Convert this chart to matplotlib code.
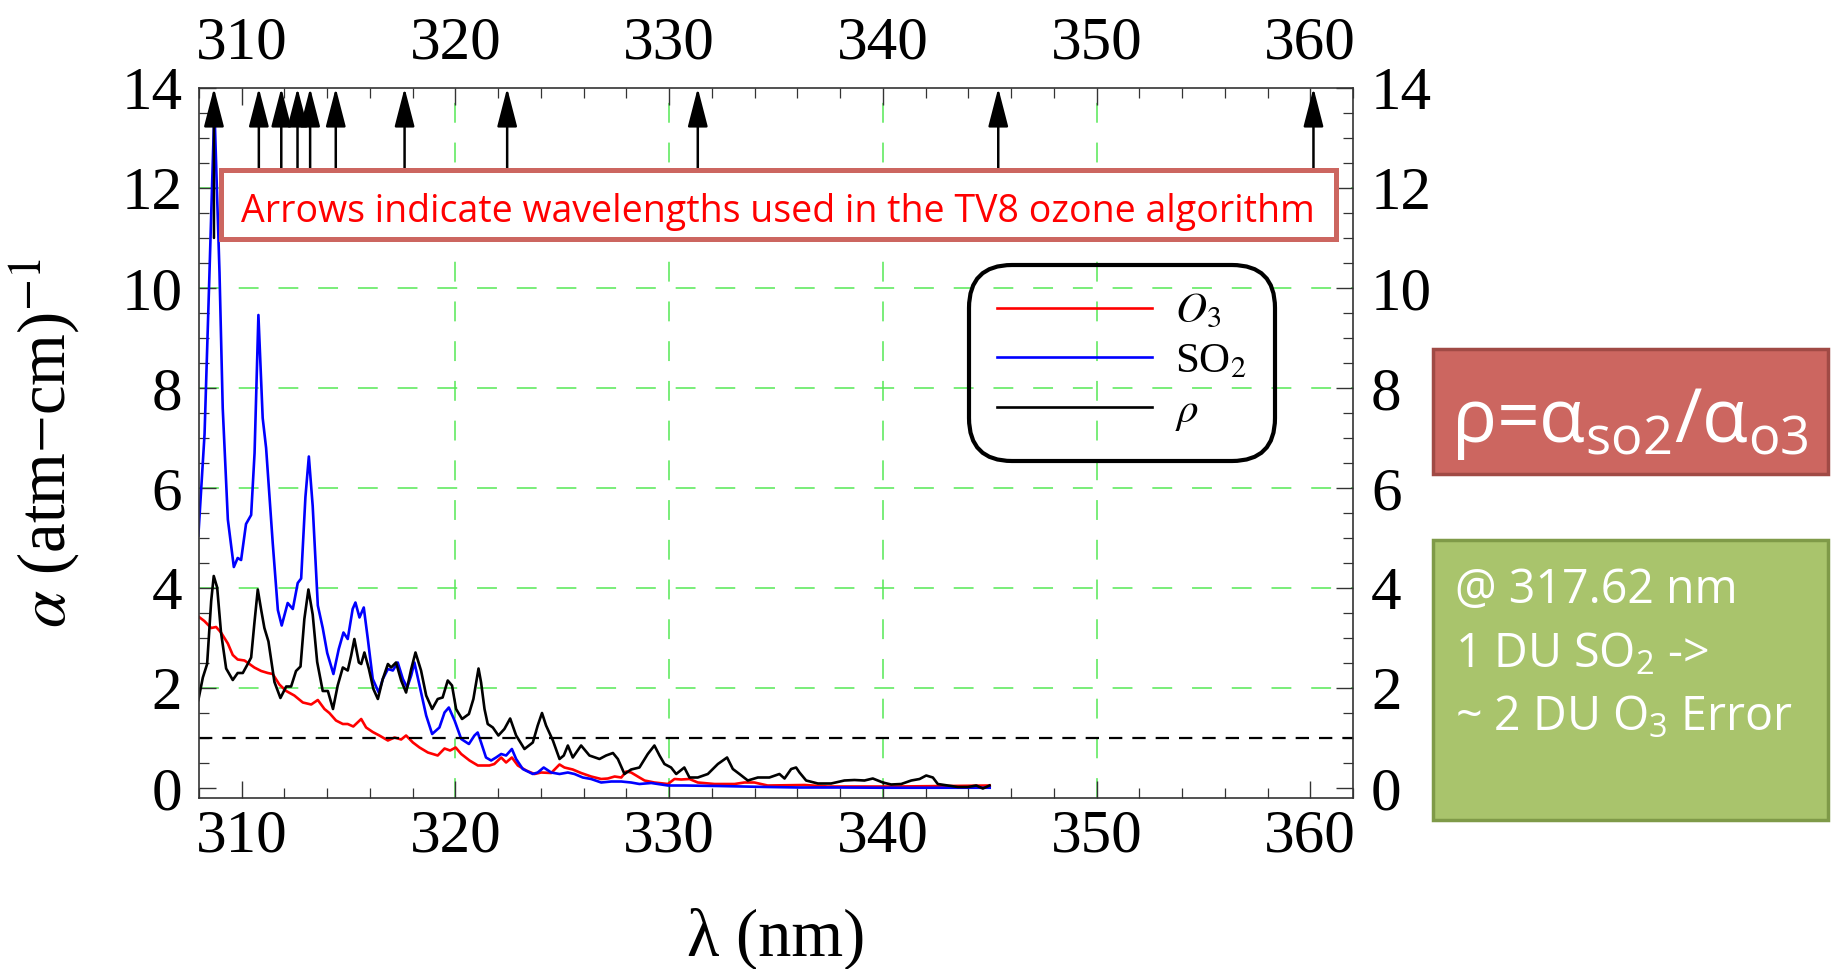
import matplotlib
matplotlib.use("Agg")
import matplotlib.pyplot as plt
from matplotlib.patches import Rectangle
from matplotlib.font_manager import FontProperties
from matplotlib.ticker import MultipleLocator

plt.rcParams['mathtext.fontset'] = 'custom'
plt.rcParams['mathtext.rm'] = 'Open Sans'
plt.rcParams['mathtext.it'] = 'Open Sans:italic'
plt.rcParams['mathtext.bf'] = 'Open Sans:bold'

# O3 absorption (red)
o3_wl = [307.97, 308.25, 308.57, 308.80, 309.03, 309.35, 309.58, 309.81, 310.13, 310.36,
         310.59, 310.91, 311.22, 311.45, 311.76, 312.08, 312.46, 312.86, 313.25, 313.56,
         313.87, 314.10, 314.41, 314.73, 314.96, 315.22, 315.59, 315.82, 316.13, 316.44,
         316.84, 317.15, 317.46, 317.69, 318.01, 318.32, 318.71, 319.17, 319.49, 319.75,
         320.01, 320.27, 320.66, 321.05, 321.20, 321.59, 321.82, 322.14, 322.37, 322.64,
         322.92, 323.31, 323.70, 324.01, 324.48, 324.87, 325.10, 325.49, 325.88, 326.35,
         326.82, 327.13, 327.45, 327.76, 327.99, 328.22, 328.61, 328.85, 329.31, 329.94,
         330.25, 330.56, 330.95, 331.34, 332.12, 333.06, 333.52, 333.99, 334.61, 336.33,
         337.42, 340.55, 343.0, 345.0]
o3_alpha = [3.43, 3.34, 3.20, 3.22, 3.11, 2.89, 2.66, 2.57, 2.55, 2.48,
            2.41, 2.34, 2.30, 2.28, 2.07, 1.94, 1.85, 1.71, 1.67, 1.76,
            1.58, 1.50, 1.35, 1.28, 1.28, 1.23, 1.38, 1.21, 1.12, 1.05,
            0.95, 1.01, 0.97, 1.05, 0.91, 0.81, 0.71, 0.65, 0.79, 0.75,
            0.81, 0.68, 0.55, 0.45, 0.45, 0.45, 0.48, 0.61, 0.51, 0.61,
            0.45, 0.35, 0.28, 0.31, 0.30, 0.47, 0.41, 0.37, 0.30, 0.23,
            0.18, 0.19, 0.23, 0.21, 0.33, 0.31, 0.21, 0.15, 0.11, 0.08,
            0.18, 0.17, 0.18, 0.11, 0.08, 0.08, 0.11, 0.11, 0.05, 0.06,
            0.03, 0.03, 0.04, 0.05]

# SO2 absorption (blue)
so2_wl = [307.97, 308.26, 308.49, 308.72, 308.96, 309.11, 309.35, 309.63, 309.81, 309.97,
          310.20, 310.44, 310.60, 310.78, 310.98, 311.14, 311.45, 311.69, 311.87, 312.15,
          312.39, 312.62, 312.78, 312.98, 313.14, 313.32, 313.56, 313.79, 314.00, 314.29,
          314.54, 314.76, 314.96, 315.19, 315.32, 315.51, 315.71, 315.90, 316.13, 316.41,
          316.60, 316.84, 317.07, 317.30, 317.54, 317.74, 317.93, 318.08, 318.32, 318.63,
          318.91, 319.25, 319.49, 319.69, 319.96, 320.27, 320.63, 320.89, 321.04, 321.20,
          321.43, 321.67, 321.90, 322.14, 322.37, 322.64, 322.84, 323.15, 323.62, 323.85,
          324.13, 324.48, 324.87, 325.26, 325.57, 325.96, 326.35, 326.82, 327.29, 327.76,
          328.22, 328.61, 329.16, 329.94, 330.71, 332.28, 334.61, 336.10, 338.0, 340.0,
          342.0, 345.0]
so2_alpha = [5.05, 7.08, 10.3, 13.6, 10.3, 7.6, 5.37, 4.42, 4.6, 4.56,
             5.28, 5.46, 6.7, 9.46, 7.4, 6.8, 4.9, 3.56, 3.25, 3.7,
             3.58, 4.1, 4.19, 5.82, 6.63, 5.64, 3.65, 3.2, 2.7, 2.28,
             2.78, 3.11, 2.98, 3.58, 3.71, 3.41, 3.61, 2.98, 2.18, 1.91,
             2.18, 2.38, 2.35, 2.51, 2.18, 2.01, 2.25, 2.51, 2.05, 1.45,
             1.08, 1.21, 1.51, 1.61, 1.35, 0.98, 0.88, 1.05, 1.11, 0.91,
             0.61, 0.55, 0.61, 0.68, 0.65, 0.78, 0.58, 0.38, 0.28, 0.31,
             0.41, 0.31, 0.28, 0.31, 0.28, 0.21, 0.18, 0.11, 0.13, 0.13,
             0.11, 0.08, 0.10, 0.05, 0.05, 0.04, 0.02, 0.01, 0.01, 0.005,
             0.005, 0.005]

# ratio rho = alpha_SO2 / alpha_O3 (black)
rho_wl = [307.97, 308.18, 308.38, 308.57, 308.69, 308.85, 309.03, 309.27, 309.58, 309.81,
          310.05, 310.28, 310.44, 310.59, 310.75, 310.91, 311.06, 311.25, 311.53, 311.81,
          312.08, 312.31, 312.54, 312.75, 312.93, 313.12, 313.32, 313.53, 313.79, 314.03,
          314.27, 314.49, 314.73, 314.96, 315.12, 315.27, 315.48, 315.59, 315.74, 315.95,
          316.16, 316.37, 316.60, 316.84, 316.99, 317.22, 317.46, 317.69, 317.93, 318.13,
          318.39, 318.63, 318.91, 319.17, 319.40, 319.64, 319.84, 320.03, 320.31, 320.63,
          320.84, 321.08, 321.20, 321.36, 321.51, 321.75, 322.01, 322.29, 322.56, 322.84,
          323.23, 323.62, 323.85, 324.05, 324.24, 324.56, 324.87, 325.07, 325.26, 325.49,
          325.88, 326.27, 326.74, 327.05, 327.37, 327.60, 327.91, 328.22, 328.61, 329.00,
          329.31, 329.55, 329.78, 330.09, 330.33, 330.71, 330.95, 331.34, 331.81, 332.28,
          332.71, 332.98, 333.29, 333.68, 334.15, 334.69, 335.16, 335.40, 335.71, 335.94,
          336.10, 336.41, 336.96, 337.58, 338.20, 338.67, 339.14, 339.53, 340.00, 340.39,
          340.86, 341.33, 341.72, 342.03, 342.34, 342.57, 343.04, 343.51, 343.98, 344.37,
          344.68, 344.99]
rho_vals = [1.76, 2.21, 2.48, 3.74, 4.24, 4.01, 3.11, 2.39, 2.16, 2.30,
            2.30, 2.48, 2.61, 3.29, 3.97, 3.56, 3.20, 2.93, 2.12, 1.80,
            2.03, 2.03, 2.34, 2.43, 3.38, 3.97, 3.47, 2.52, 1.94, 1.94,
            1.58, 2.05, 2.41, 2.35, 2.65, 2.98, 2.51, 2.48, 2.71, 2.38,
            1.98, 1.78, 2.18, 2.48, 2.41, 2.51, 2.15, 1.91, 2.38, 2.71,
            2.35, 1.85, 1.58, 1.78, 1.81, 2.15, 2.05, 1.58, 1.38, 1.48,
            1.78, 2.39, 2.11, 1.58, 1.28, 1.21, 1.05, 1.18, 1.39, 1.05,
            0.78, 0.91, 1.25, 1.50, 1.25, 0.95, 0.58, 0.65, 0.85, 0.61,
            0.85, 0.65, 0.58, 0.65, 0.70, 0.58, 0.28, 0.37, 0.41, 0.68,
            0.85, 0.65, 0.48, 0.41, 0.28, 0.41, 0.21, 0.21, 0.28, 0.48,
            0.61, 0.38, 0.28, 0.15, 0.21, 0.21, 0.28, 0.19, 0.38, 0.41,
            0.31, 0.15, 0.09, 0.09, 0.15, 0.16, 0.15, 0.19, 0.11, 0.07,
            0.08, 0.15, 0.18, 0.25, 0.21, 0.08, 0.05, 0.02, 0.02, 0.05,
            -0.01, 0.05]

# TV8 algorithm wavelengths (arrows)
tv8_wl = [308.70, 310.80, 311.85, 312.61, 313.20, 314.40, 317.62, 322.42, 331.34, 345.40, 360.15]
arrow_from, arrow_to = 11.0, 14.0
ref_level = 1.0

x_ticks = [310, 320, 330, 340, 350, 360]
y_ticks = [0, 2, 4, 6, 8, 10, 12, 14]
x_grid = [320, 330, 340, 350]
y_grid = [2, 4, 6, 8, 10, 12]

legend_labels = [r'$O_3$', r'SO$_2$', r'$\rho$']

W, H = 1837, 969
def fx(px):
    return px / W
def fy(py):
    return 1 - py / H

fig = plt.figure(figsize=(W / 100, H / 100), dpi=100)
ax = fig.add_axes([fx(199), fy(798), fx(1353) - fx(199), fy(88) - fy(798)])

serif = 'Liberation Serif'
sans = 'Open Sans'
grid_green = '#55e855'

for g in x_grid:
    ax.axvline(g, color=grid_green, lw=1.1, dashes=(13, 13), zorder=0.5)
for g in y_grid:
    ax.axhline(g, color=grid_green, lw=1.1, dashes=(13, 13), zorder=0.5)

lw = 1.9
l1, = ax.plot(o3_wl, o3_alpha, color='#ff0000', lw=lw, zorder=2)
l2, = ax.plot(so2_wl, so2_alpha, color='#0000ff', lw=lw, zorder=2.1)
l3, = ax.plot(rho_wl, rho_vals, color='black', lw=lw, zorder=2.2)
ax.axhline(ref_level, color='black', lw=1.6, dashes=(6, 4.5), zorder=2.5)

for w in tv8_wl:
    ax.annotate('', xy=(w, arrow_to), xytext=(w, arrow_from),
                arrowprops=dict(arrowstyle='-|>,head_length=2.4,head_width=0.62',
                                color='black', lw=1.8, shrinkA=0, shrinkB=0,
                                mutation_scale=10),
                annotation_clip=False, zorder=4)

ax.set_xlim(308, 362)
ax.set_ylim(-0.2, 14)
ax.set_xticks(x_ticks)
ax.set_yticks(y_ticks)
ax.xaxis.set_minor_locator(MultipleLocator(2))
ax.yaxis.set_minor_locator(MultipleLocator(0.5))
ax.tick_params(which='both', direction='in', top=True, right=True, color='#333333')
ax.tick_params(which='major', length=12, width=1.0, labelsize=44)
ax.tick_params(which='minor', length=7, width=0.9)
ax.tick_params(axis='x', which='major', pad=8)
ax.tick_params(axis='y', which='major', pad=12)
for lab in ax.get_xticklabels() + ax.get_yticklabels():
    lab.set_fontfamily(serif)
for sp in ax.spines.values():
    sp.set_color('#333333')
    sp.set_linewidth(1.2)

secx = ax.secondary_xaxis('top')
secx.set_xticks(x_ticks)
secx.tick_params(which='both', length=0, labelsize=44, pad=12)
secx.spines['top'].set_visible(False)
secy = ax.secondary_yaxis('right')
secy.set_yticks(y_ticks)
secy.tick_params(which='both', length=0, labelsize=44, pad=13)
secy.spines['right'].set_visible(False)
for lab in secx.get_xticklabels() + secy.get_yticklabels():
    lab.set_fontfamily(serif)

ax.set_xlabel('λ (nm)', fontsize=48, fontfamily=serif, labelpad=31)
ax.set_ylabel(r'$\alpha$ (atm−cm)$^{-1}$', fontsize=48, fontfamily=serif,
              math_fontfamily='stix', labelpad=28)

leg = ax.legend([l1, l2, l3], legend_labels, loc='center',
                bbox_to_anchor=(fx(1122), fy(363)), bbox_transform=fig.transFigure,
                prop=FontProperties(family=serif, size=31, math_fontfamily='stix'),
                handlelength=3.6, handletextpad=0.55, labelspacing=0.25,
                borderpad=0.65, frameon=True, fancybox=True, framealpha=1)
frame = leg.get_frame()
frame.set_facecolor('none')
frame.set_edgecolor('black')
frame.set_linewidth(3)
frame.set_boxstyle('round,pad=0,rounding_size=1.0')
leg.set_zorder(6)

# annotation box across the top of the plot
fig.add_artist(Rectangle((fx(220.5), fy(238.5)), fx(1335.5) - fx(220.5), fy(169.5) - fy(238.5),
                         transform=fig.transFigure, facecolor='white', edgecolor='#cc6660',
                         lw=3.6, zorder=5))
fig.text(fx(778), fy(222), 'Arrows indicate wavelengths used in the TV8 ozone algorithm',
         color='#ff0000', fontsize=27, fontfamily=sans, ha='center', va='baseline', zorder=6)

# side boxes
fig.add_artist(Rectangle((fx(1433), fy(474)), fx(1828) - fx(1433), fy(349) - fy(474),
                         transform=fig.transFigure, facecolor='#cc6660', edgecolor='#a04a45',
                         lw=2.5, zorder=5))
fig.text(fx(1630), fy(442), r'ρ=α$_{\mathregular{so2}}$/α$_{\mathregular{o3}}$', color='white',
         fontsize=54, fontfamily=sans, ha='center', va='baseline', zorder=6)

fig.add_artist(Rectangle((fx(1433), fy(820)), fx(1828) - fx(1433), fy(540) - fy(820),
                         transform=fig.transFigure, facecolor='#a9c46c', edgecolor='#7f9a48',
                         lw=2.5, zorder=5))
green_lines = ['@ 317.62 nm', r'1 DU SO$_2$ ->', r'~ 2 DU O$_3$ Error']
for txt, base in zip(green_lines, [603, 667, 730]):
    fig.text(fx(1455), fy(base), txt, color='white', fontsize=33.5, fontfamily=sans,
             ha='left', va='baseline', zorder=6)

fig.savefig('out.png', dpi=100)
